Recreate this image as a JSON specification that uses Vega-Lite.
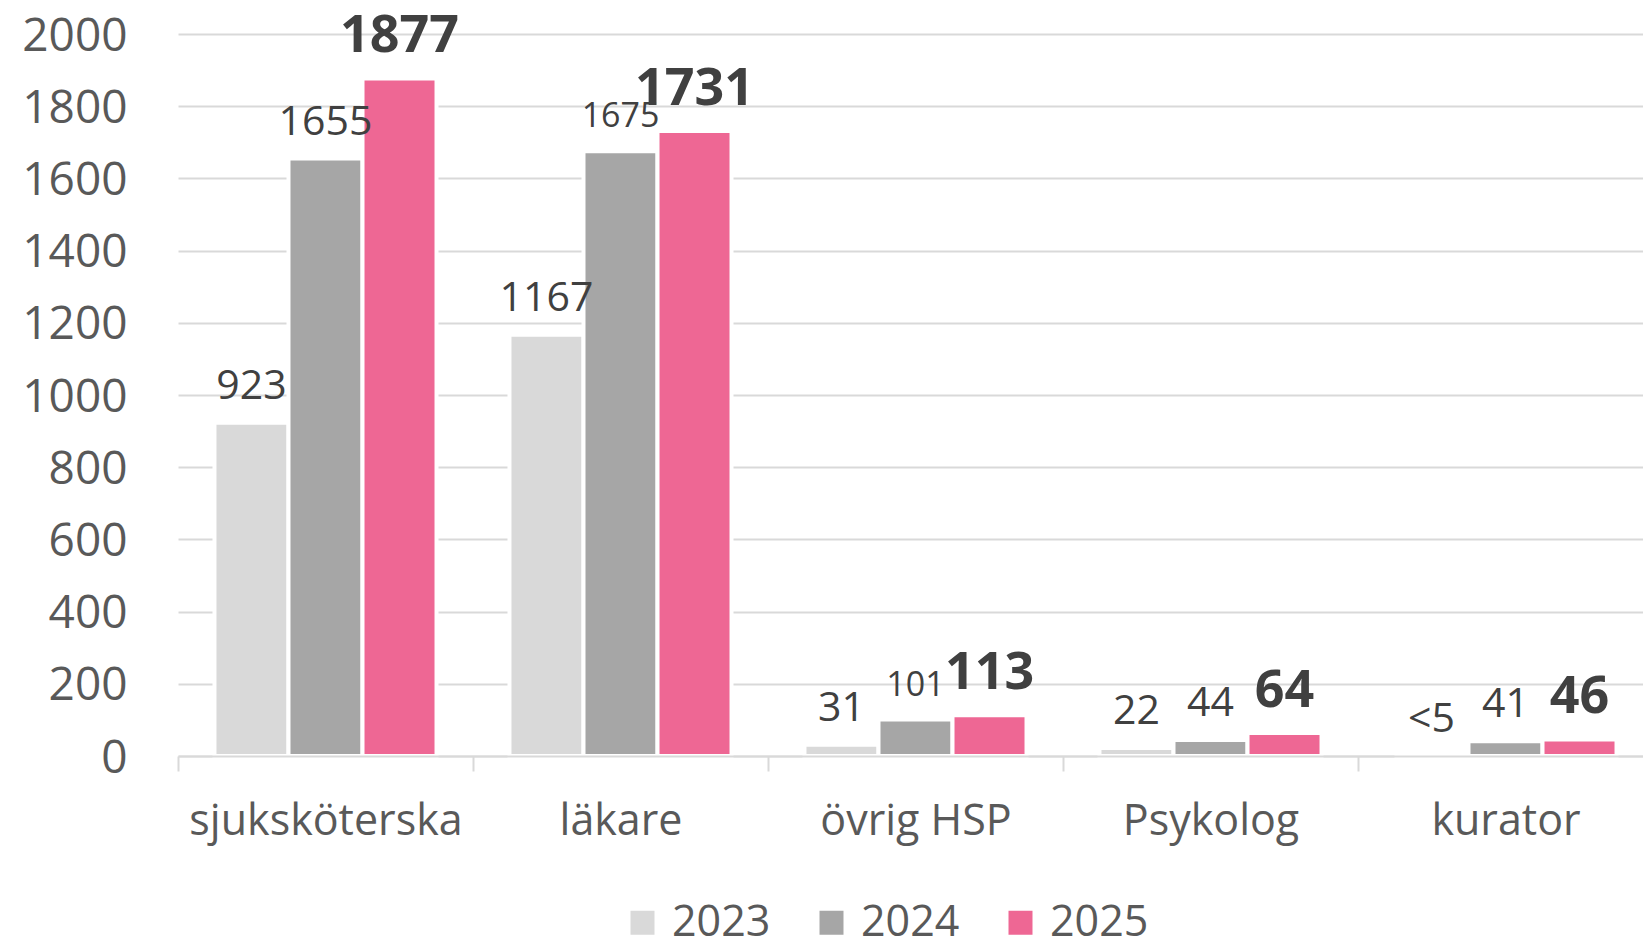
{
  "$schema": "https://vega.github.io/schema/vega-lite/v6.json",
  "width": 1465,
  "height": 722,
  "autosize": {"type": "none"},
  "padding": {"left": 178, "top": 34, "right": 0, "bottom": 190},
  "background": "white",
  "config": {"font": "Open Sans", "view": {"stroke": null}},
  "data": {
    "values": [
      {"yrke": "sjuksköterska", "year": "2023", "value": 923, "label": "923"},
      {"yrke": "sjuksköterska", "year": "2024", "value": 1655, "label": "1655"},
      {"yrke": "sjuksköterska", "year": "2025", "value": 1877, "label": "1877"},
      {"yrke": "läkare", "year": "2023", "value": 1167, "label": "1167"},
      {"yrke": "läkare", "year": "2024", "value": 1675, "label": "1675"},
      {"yrke": "läkare", "year": "2025", "value": 1731, "label": "1731"},
      {"yrke": "övrig HSP", "year": "2023", "value": 31, "label": "31"},
      {"yrke": "övrig HSP", "year": "2024", "value": 101, "label": "101"},
      {"yrke": "övrig HSP", "year": "2025", "value": 113, "label": "113"},
      {"yrke": "Psykolog", "year": "2023", "value": 22, "label": "22"},
      {"yrke": "Psykolog", "year": "2024", "value": 44, "label": "44"},
      {"yrke": "Psykolog", "year": "2025", "value": 64, "label": "64"},
      {"yrke": "kurator", "year": "2023", "value": 0, "label": "<5"},
      {"yrke": "kurator", "year": "2024", "value": 41, "label": "41"},
      {"yrke": "kurator", "year": "2025", "value": 46, "label": "46"}
    ]
  },
  "encoding": {
    "x": {
      "field": "yrke",
      "type": "nominal",
      "sort": ["sjuksköterska", "läkare", "övrig HSP", "Psykolog", "kurator"],
      "scale": {"range": [0, 1475], "paddingInner": 0, "paddingOuter": 0},
      "axis": {
        "title": null,
        "labelAngle": 0,
        "labelLimit": 0,
        "domain": true,
        "domainColor": "#d9d9d9",
        "domainWidth": 2,
        "ticks": true,
        "tickBand": "extent",
        "tickColor": "#d9d9d9",
        "tickWidth": 2,
        "tickSize": 15,
        "labelFont": "Open Sans",
        "labelFontSize": 43,
        "labelColor": "#595959",
        "labelBaseline": "alphabetic",
        "labelPadding": 63,
        "grid": false,
        "zindex": 1
      }
    },
    "xOffset": {
      "field": "year",
      "type": "nominal",
      "scale": {"paddingInner": 0, "paddingOuter": 0.493}
    },
    "y": {
      "field": "value",
      "type": "quantitative",
      "scale": {"domain": [0, 2000], "nice": false},
      "axis": {
        "title": null,
        "values": [0, 200, 400, 600, 800, 1000, 1200, 1400, 1600, 1800, 2000],
        "format": "d",
        "grid": true,
        "gridColor": "#d9d9d9",
        "gridWidth": 2,
        "domain": false,
        "ticks": false,
        "tickSize": 0,
        "labelPadding": 51,
        "labelFont": "Open Sans",
        "labelFontSize": 46,
        "labelColor": "#595959",
        "labelOffset": 2,
        "zindex": 0
      }
    }
  },
  "layer": [
    {
      "mark": {"type": "bar", "stroke": "white", "strokeWidth": 4},
      "encoding": {
        "color": {
          "field": "year",
          "type": "nominal",
          "scale": {"domain": ["2023", "2024", "2025"], "range": ["#d9d9d9", "#a6a6a6", "#ee6794"]},
          "legend": {
            "title": null,
            "orient": "none",
            "legendX": 443,
            "legendY": 867,
            "direction": "horizontal",
            "symbolType": "square",
            "symbolSize": 576,
            "symbolStrokeWidth": 0,
            "labelFont": "Open Sans",
            "labelFontSize": 43,
            "labelColor": "#595959",
            "labelOffset": 8,
            "columnPadding": 39
          }
        }
      }
    },
    {
      "transform": [{"filter": "datum.year != '2025'"}],
      "mark": {"type": "text", "baseline": "alphabetic", "dy": -24, "color": "#404040", "font": "Open Sans"},
      "encoding": {
        "text": {"field": "label"},
        "size": {
          "condition": {"test": "datum.label == '101' || datum.label == '1675'", "value": 34},
          "value": 41
        }
      }
    },
    {
      "transform": [{"filter": "datum.year == '2025'"}],
      "mark": {"type": "text", "baseline": "alphabetic", "dy": -26, "color": "#404040", "font": "Open Sans", "fontWeight": "bold", "fontSize": 52},
      "encoding": {
        "text": {"field": "label"}
      }
    }
  ]
}
